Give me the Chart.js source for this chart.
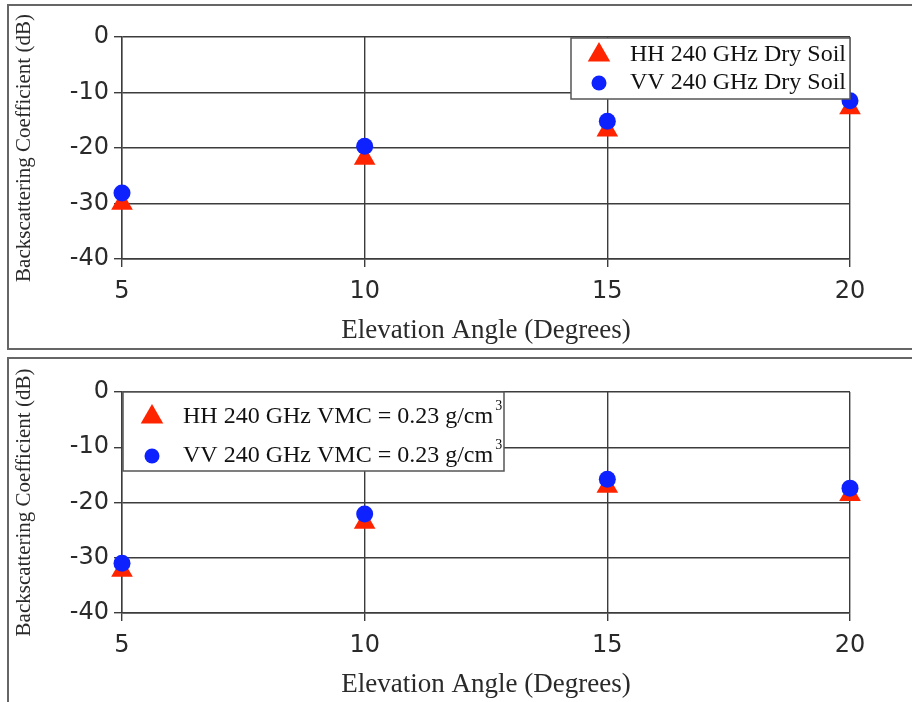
<!DOCTYPE html>
<html>
<head>
<meta charset="utf-8">
<script src="https://cdn.jsdelivr.net/npm/chart.js@4.4.1/dist/chart.umd.min.js"></script>
<style>
  html, body { margin: 0; padding: 0; background: #fff; }
  body { width: 912px; height: 702px; position: relative; overflow: hidden; }
  .frame { position: absolute; border: 2px solid #666; border-right: none; }
  #frameTop { left: 7px; top: 4px; width: 920px; height: 342px; }
  #frameBottom { left: 7px; top: 357px; width: 920px; height: 360px; }
  .panel { position: absolute; left: 0; width: 912px; height: 350px; }
  #panelTop { top: 0; }
  #panelBottom { top: 352px; }
</style>
</head>
<body>
<div class="frame" id="frameTop"></div>
<div class="frame" id="frameBottom"></div>
<div class="panel" id="panelTop"><canvas id="dryChart"></canvas></div>
<div class="panel" id="panelBottom"><canvas id="wetChart"></canvas></div>
<script>
const angles = [5, 10, 15, 20];
const hhDry = [-30.0, -21.9, -16.8, -12.8];
const vvDry = [-28.1, -19.7, -15.2, -11.5];
const hhWet = [-32.3, -23.6, -17.1, -18.6];
const vvWet = [-31.0, -22.1, -15.8, -17.4];
const dryLabels = ['HH 240 GHz Dry Soil', 'VV 240 GHz Dry Soil'];
const wetLabels = ['HH 240 GHz VMC = 0.23 g/cm', 'VV 240 GHz VMC = 0.23 g/cm'];
const xTitle = 'Elevation Angle (Degrees)';
const yTitle = 'Backscattering Coefficient (dB)';

const red = 'rgb(255, 36, 0)';
const blue = 'rgb(14, 34, 255)';
const gridColor = '#3c3c3c';
const textColor = '#2a2a2a';
const serif = '"Liberation Serif", "Times New Roman", serif';
const sans = '"DejaVu Sans", sans-serif';

function toPoints(ys) {
  return angles.map((x, i) => ({ x: x, y: ys[i] }));
}

// legend box drawn inside the plot area
const boxLegend = {
  id: 'boxLegend',
  afterDatasetsDraw(chart, args, opts) {
    const ctx = chart.ctx;
    const area = chart.chartArea;
    const left = opts.align === 'right' ? area.right - opts.width : area.left + 1;
    const top = area.top + opts.offsetY;
    ctx.save();
    ctx.fillStyle = '#fff';
    ctx.strokeStyle = '#555';
    ctx.lineWidth = 1.5;
    ctx.fillRect(left, top, opts.width, opts.height);
    ctx.strokeRect(left, top, opts.width, opts.height);

    opts.labels.forEach((label, i) => {
      const y = top + opts.firstRow + i * opts.rowGap;
      const marker = opts.markers[i];
      ctx.fillStyle = marker.color;
      Chart.helpers.drawPoint(ctx, { pointStyle: marker.style, radius: marker.radius, rotation: 0, borderWidth: 0 },
        left + opts.markerX, y);

      ctx.fillStyle = '#111';
      ctx.font = '24px ' + serif;
      ctx.textBaseline = 'middle';
      ctx.textAlign = 'left';
      ctx.fillText(label, left + opts.textX, y);
      if (opts.sup) {
        const w = ctx.measureText(label).width;
        ctx.font = '14px ' + serif;
        ctx.fillText(opts.sup, left + opts.textX + w + 2, y - 11);
      }
    });
    ctx.restore();
  }
};

function makeChart(id, hh, vv, labels, legendOpts, pad) {
  const axisFont = { family: sans, size: 24 };
  return new Chart(document.getElementById(id), {
    type: 'scatter',
    data: {
      datasets: [
        {
          label: labels[0],
          data: toPoints(hh),
          pointStyle: 'triangle',
          pointRadius: 12.5,
          pointHoverRadius: 12.5,
          backgroundColor: red,
          borderWidth: 0,
          clip: false,
          order: 2
        },
        {
          label: labels[1],
          data: toPoints(vv),
          pointStyle: 'circle',
          pointRadius: 8.5,
          pointHoverRadius: 8.5,
          backgroundColor: blue,
          borderWidth: 0,
          clip: false,
          order: 1
        }
      ]
    },
    options: {
      responsive: true,
      maintainAspectRatio: false,
      animation: false,
      layout: { padding: pad },
      scales: {
        x: {
          type: 'linear',
          min: 5,
          max: 20,
          ticks: { stepSize: 5, font: axisFont, color: textColor, padding: 10 },
          grid: { color: gridColor, lineWidth: 1.4, tickLength: 8 },
          border: { color: gridColor, width: 1.4 },
          title: { display: true, text: xTitle, color: textColor, font: { family: serif, size: 27 }, padding: 0 },
          afterFit(scale) { scale.height = 88; }
        },
        y: {
          min: -40,
          max: 0,
          ticks: { stepSize: 10, font: axisFont, color: textColor, padding: 5 },
          grid: { color: gridColor, lineWidth: 1.4, tickLength: 8 },
          border: { color: gridColor, width: 1.4 },
          title: { display: true, text: yTitle, color: textColor, font: { family: serif, size: 21 }, padding: 0 },
          afterFit(scale) { scale.width = 110; }
        }
      },
      plugins: {
        legend: { display: false },
        tooltip: { enabled: false },
        boxLegend: Object.assign({ labels: labels }, legendOpts)
      }
    },
    plugins: [boxLegend]
  });
}

const markers = [
  { style: 'triangle', radius: 13, color: red },
  { style: 'circle', radius: 7.5, color: blue }
];

makeChart('dryChart', hhDry, vvDry, dryLabels, {
  align: 'right', offsetY: 1, width: 279, height: 61,
  firstRow: 17, rowGap: 28, markerX: 28, textX: 59, markers: markers
}, { left: 12, right: 62, top: 37, bottom: 3 });

makeChart('wetChart', hhWet, vvWet, wetLabels, {
  align: 'left', offsetY: 0, width: 381, height: 79,
  firstRow: 25, rowGap: 39, markerX: 29, textX: 60, markers: markers, sup: '3'
}, { left: 12, right: 62, top: 40, bottom: 1 });
</script>
</body>
</html>
